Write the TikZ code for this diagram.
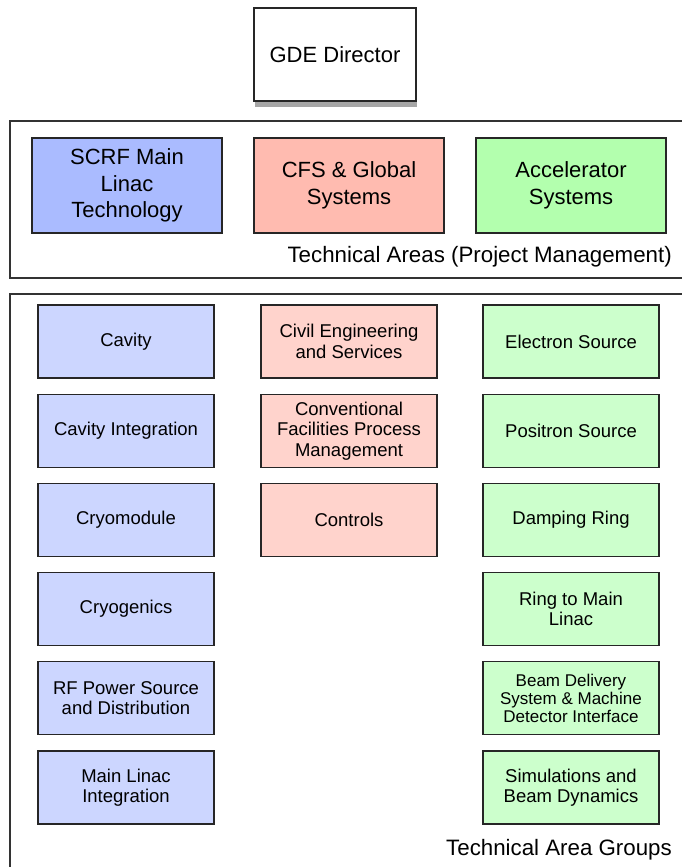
\documentclass[tikz,border=0pt]{standalone}
\usepackage{fontspec}
\setmainfont{Liberation Sans}
\usepackage{tikz}
\usetikzlibrary{shadows}
\definecolor{gdeframe}{HTML}{333333}
\definecolor{gdeblue}{HTML}{AABBFF}
\definecolor{gdepink}{HTML}{FFBBB0}
\definecolor{gdegreen}{HTML}{B3FFAE}
\definecolor{gdeblueL}{HTML}{CCD6FF}
\definecolor{gdepinkL}{HTML}{FFD3CC}
\definecolor{gdegreenL}{HTML}{CCFFCC}
\tikzset{
  box/.style={draw=black!85,line width=1.2pt,align=center,inner sep=2pt},
  head/.style={box,fill=white,minimum width=162pt,minimum height=93pt,font=\fontsize{22}{26.5}\selectfont,
    drop shadow={shadow xshift=1pt,shadow yshift=-6pt,opacity=0.35,fill=black}},
  area/.style={box,minimum width=190pt,minimum height=95pt,font=\fontsize{22}{26.5}\selectfont},
  grp/.style={box,minimum width=176pt,minimum height=73pt,font=\fontsize{18.5}{20.5}\selectfont},
  frame/.style={draw=gdeframe,line width=1.3pt},
  caption/.style={anchor=east,inner sep=0pt,font=\fontsize{22.3}{26}\selectfont},
}
\begin{document}
\begin{tikzpicture}[x=1pt,y=-1pt]
  \useasboundingbox (0,0) rectangle (681,867);
  % frames
  \draw[frame] (10,121) rectangle (700,278);
  \draw[frame] (10,294) rectangle (700,900);
  \node[head] (dir) at (335,54.5) {GDE Director};
  % technical areas
  \node[area,fill=gdeblue] (scrf) at (127,185.5) {SCRF Main\\Linac\\Technology};
  \node[area,fill=gdepink] (cfs) at (349,185.5) {CFS \& Global\\Systems};
  \node[area,fill=gdegreen] (acc) at (571,185.5) {Accelerator\\Systems};
  \node[caption] (tacap) at (672,257) {Technical Areas (Project Management)};
  % groups
  \node[grp,fill=gdeblueL] (cav) at (126,341.5) {Cavity};
  \node[grp,fill=gdeblueL] (cavint) at (126,431) {Cavity Integration};
  \node[grp,fill=gdeblueL] (cryomod) at (126,520) {Cryomodule};
  \node[grp,fill=gdeblueL] (cryogen) at (126,609) {Cryogenics};
  \node[grp,fill=gdeblueL] (rf) at (126,698) {RF Power Source\\and Distribution};
  \node[grp,fill=gdeblueL] (mlint) at (126,787.5) {Main Linac\\Integration};
  \node[grp,fill=gdepinkL] (civil) at (349,341.5) {Civil Engineering\\and Services};
  \node[grp,fill=gdepinkL] (conv) at (349,431) {Conventional\\Facilities Process\\Management};
  \node[grp,fill=gdepinkL] (ctrl) at (349,520) {Controls};
  \node[grp,fill=gdegreenL] (esrc) at (571,341.5) {Electron Source};
  \node[grp,fill=gdegreenL] (psrc) at (571,431) {Positron Source};
  \node[grp,fill=gdegreenL] (dr) at (571,520) {Damping Ring};
  \node[grp,fill=gdegreenL] (rtml) at (571,609) {Ring to Main\\Linac};
  \node[grp,fill=gdegreenL,font=\fontsize{17}{18}\selectfont] (bds) at (571,698) {Beam Delivery\\System \& Machine\\Detector Interface};
  \node[grp,fill=gdegreenL] (sim) at (571,787.5) {Simulations and\\Beam Dynamics};
  \node[caption] (tagcap) at (672,850) {Technical Area Groups};
\end{tikzpicture}
\end{document}
